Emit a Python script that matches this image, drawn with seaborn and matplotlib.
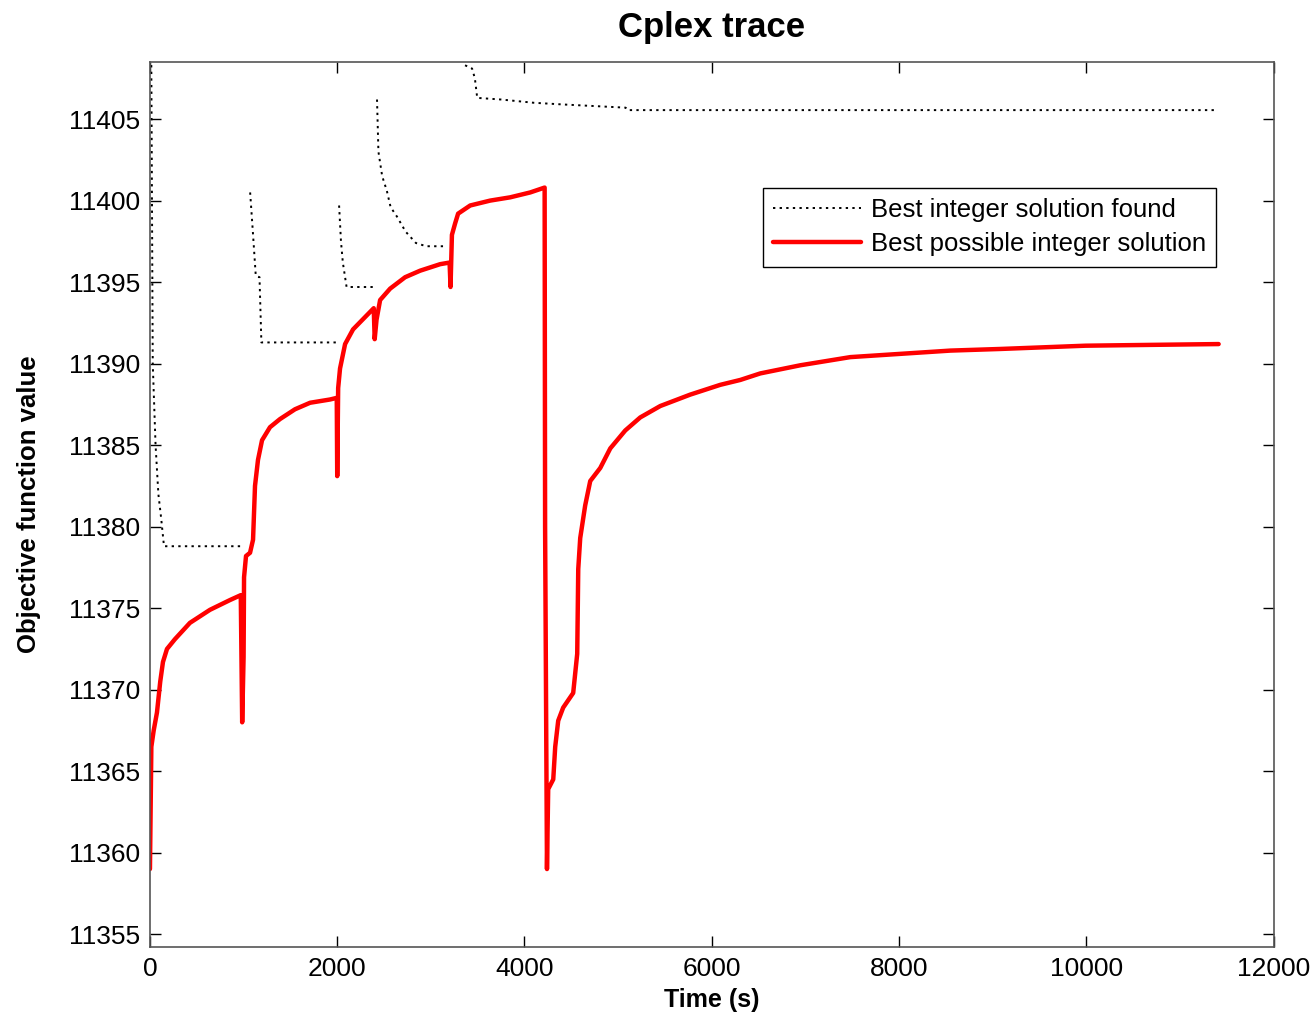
import numpy as np
import pandas as pd
import matplotlib
matplotlib.use("Agg")
import matplotlib.pyplot as plt
import seaborn as sns

# Best integer solution found (incumbent) - separate runs, one list per run
int_time = [
    [5, 30, 60, 90, 120, 150, 995],
    [1070, 1100, 1130, 1170, 1190, 2000],
    [2020, 2040, 2060, 2100, 2385],
    [2425, 2440, 2480, 2530, 2570, 2640, 2730, 2840, 2950, 3130],
    [3365, 3440, 3470, 3495, 3750, 4100, 4400, 5080, 5100, 11380],
]
int_value = [
    [11420, 11390, 11385, 11382, 11380.5, 11378.8, 11378.8],
    [11400.5, 11398, 11395.4, 11395.3, 11391.3, 11391.3],
    [11399.7, 11397.5, 11396.2, 11394.7, 11394.7],
    [11406.2, 11403, 11401.5, 11400.6, 11399.6, 11399.0, 11398.1, 11397.4, 11397.2, 11397.2],
    [11408.3, 11408.1, 11407.5, 11406.3, 11406.2, 11406.0, 11405.9, 11405.7, 11405.55, 11405.55],
]

# Best possible integer solution (bound)
bound_time = [0, 15, 40, 75, 110, 139, 182, 267, 427, 641, 855, 970, 985, 1000, 1005,
              1026, 1069, 1101, 1122, 1154, 1197, 1282, 1389, 1549, 1710, 1923, 1995,
              2000, 2010, 2030, 2084, 2169, 2390, 2400, 2420, 2458, 2565, 2725, 2885,
              3099, 3200, 3210, 3225, 3259, 3291, 3420, 3633, 3847, 4061, 4215, 4220,
              4240, 4253, 4307, 4328, 4360, 4413, 4520, 4563, 4574, 4595, 4648, 4702,
              4809, 4916, 5076, 5236, 5450, 5770, 6091, 6305, 6518, 6946, 7480, 8015,
              8549, 9083, 9991, 10686, 11413]
bound_value = [11359.0, 11366.5, 11367.5, 11368.6, 11370.5, 11371.7, 11372.5, 11373.1,
               11374.1, 11374.9, 11375.5, 11375.8, 11368.0, 11372.0, 11376.9, 11378.2,
               11378.4, 11379.2, 11382.5, 11384.1, 11385.3, 11386.1, 11386.6, 11387.2,
               11387.6, 11387.8, 11387.9, 11383.1, 11388.5, 11389.7, 11391.2, 11392.1,
               11393.4, 11391.5, 11392.7, 11393.9, 11394.6, 11395.3, 11395.7, 11396.1,
               11396.2, 11394.7, 11397.9, 11398.6, 11399.2, 11399.7, 11400.0, 11400.2,
               11400.5, 11400.8, 11380.0, 11359.0, 11363.9, 11364.5, 11366.5, 11368.1,
               11368.9, 11369.8, 11372.2, 11377.4, 11379.3, 11381.3, 11382.8, 11383.6,
               11384.8, 11385.9, 11386.7, 11387.4, 11388.1, 11388.7, 11389.0, 11389.4,
               11389.9, 11390.4, 11390.6, 11390.8, 11390.9, 11391.1, 11391.15, 11391.2]

x_ticks = [0, 2000, 4000, 6000, 8000, 10000, 12000]
y_ticks = [11355, 11360, 11365, 11370, 11375, 11380, 11385, 11390, 11395, 11400, 11405]

# long table for the incumbent with a run id, so runs are not joined
rows = []
for run, (ts, vs) in enumerate(zip(int_time, int_value)):
    for t, v in zip(ts, vs):
        rows.append({"time": t, "value": v, "run": run})
df_int = pd.DataFrame(rows)
df_bound = pd.DataFrame({"time": bound_time, "value": bound_value})

sns.set_theme(style="white")
plt.rcParams["font.family"] = ["Liberation Sans", "DejaVu Sans"]
plt.rcParams["text.color"] = "black"
plt.rcParams["xtick.color"] = "black"
plt.rcParams["ytick.color"] = "black"
plt.rcParams["axes.labelcolor"] = "black"

fig = plt.figure(figsize=(13.13, 10.15), dpi=100)
ax = fig.add_axes([0.1142, 0.0667, 0.8558, 0.8722])

sns.lineplot(data=df_int, x="time", y="value", units="run", estimator=None,
             sort=False, color="black", lw=1.4, linestyle=(0, (1.2, 2.2)), ax=ax)
sns.lineplot(data=df_bound, x="time", y="value", sort=False, color="red",
             lw=3.2, ax=ax)

ax.set_xlim(0, 12000)
ax.set_ylim(11354.2, 11408.5)
ax.set_xticks(x_ticks)
ax.set_yticks(y_ticks)
ax.set_xticklabels([str(t) for t in x_ticks])
ax.set_yticklabels([str(t) for t in y_ticks])

ax.tick_params(direction="in", length=8, width=1, labelsize=19,
               top=True, right=True, bottom=True, left=True, pad=7)
for sp in ax.spines.values():
    sp.set_visible(True)
    sp.set_color("#555555")
    sp.set_linewidth(1.2)

ax.set_title("Cplex trace", fontsize=25, fontweight="bold", pad=18)
ax.set_xlabel("Time (s)", fontsize=18, fontweight="bold", labelpad=5)
ax.set_ylabel("Objective function value", fontsize=18.5, fontweight="bold", labelpad=20)

handles = [ax.lines[0], ax.lines[-1]]
leg = ax.legend(handles, ["Best integer solution found", "Best possible integer solution"],
                loc="upper right", bbox_to_anchor=(0.949, 0.858), fontsize=18.5,
                frameon=True, fancybox=False, framealpha=1, edgecolor="black",
                handlelength=3.4, handletextpad=0.4, borderpad=0.4, labelspacing=0.4,
                borderaxespad=0)
leg.get_frame().set_linewidth(1.0)

fig.savefig("out.png", dpi=100)
